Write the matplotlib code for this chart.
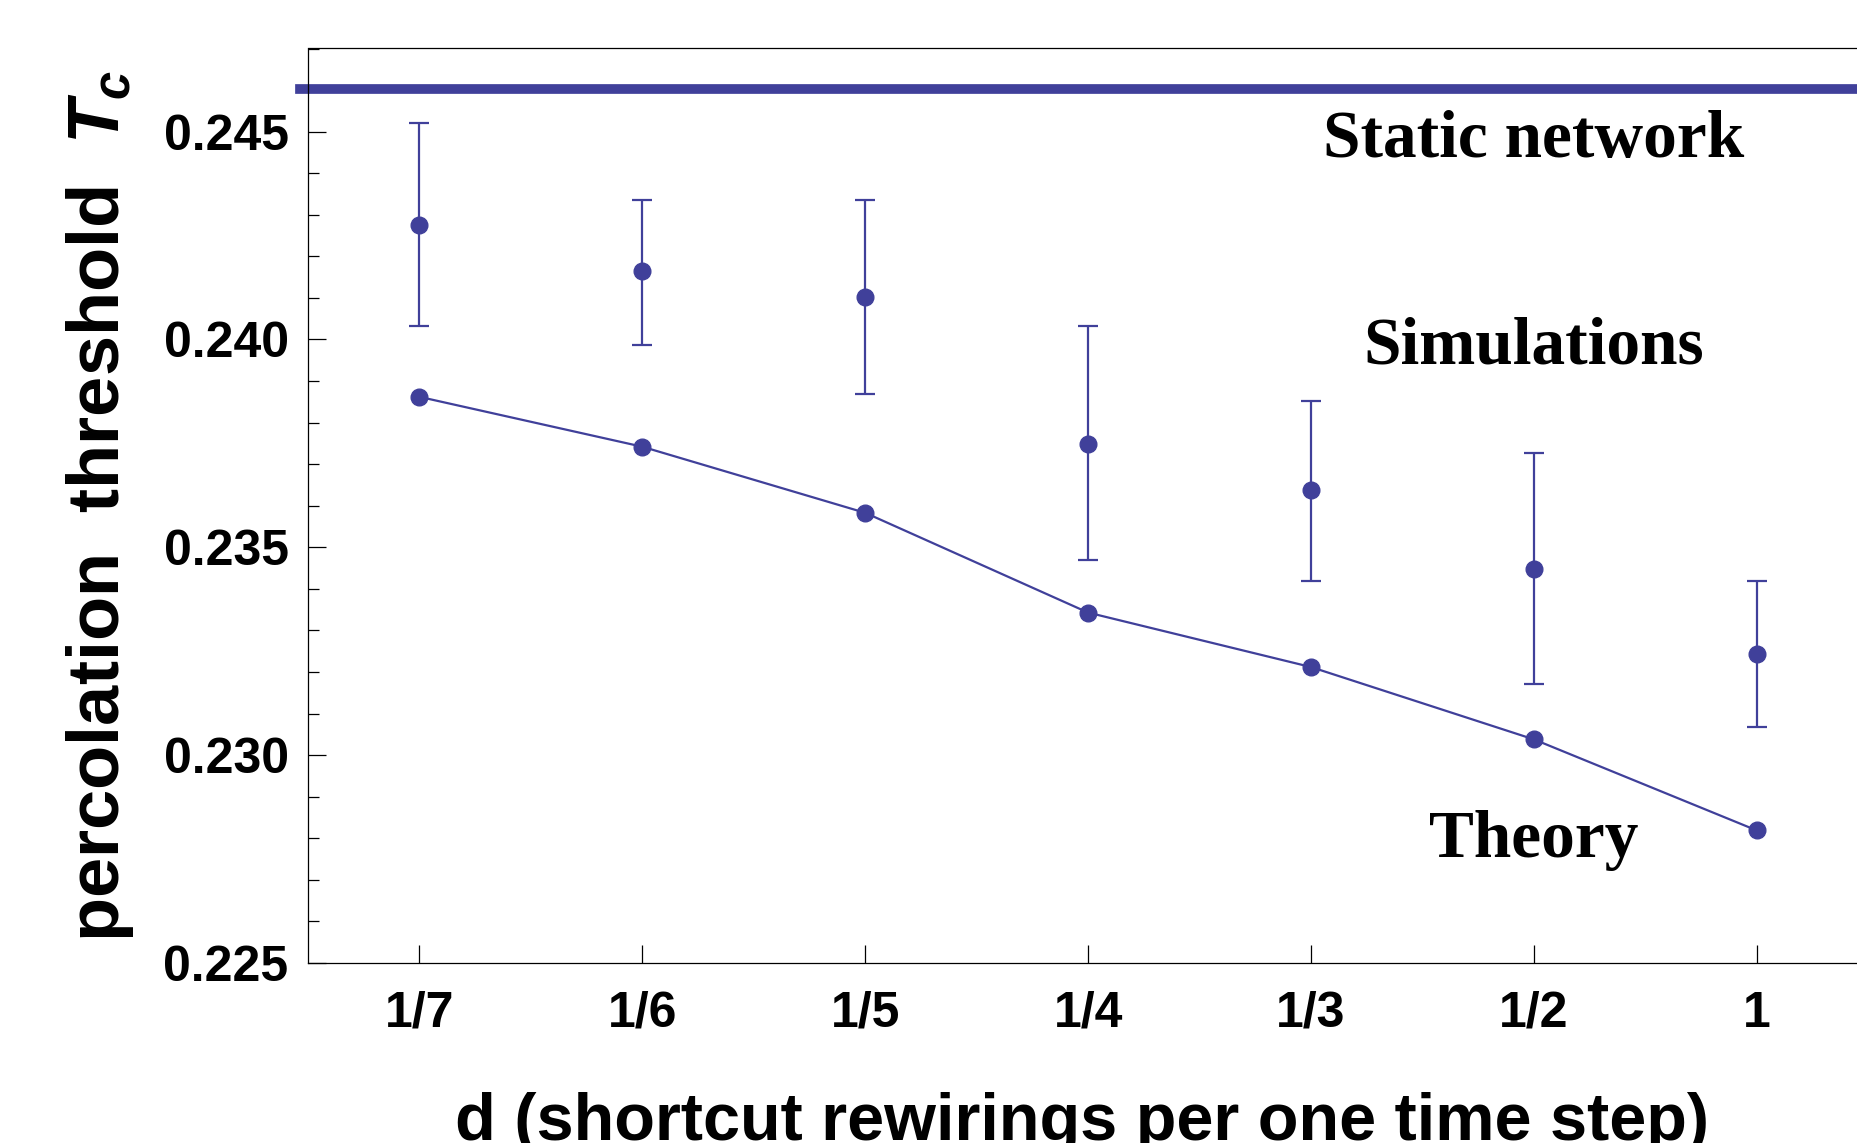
import matplotlib
matplotlib.use('Agg')
import matplotlib.pyplot as plt
from matplotlib.ticker import MultipleLocator

plt.rcParams['font.family'] = 'Liberation Sans'
plt.rcParams['font.weight'] = 'bold'
plt.rcParams['mathtext.fontset'] = 'custom'
plt.rcParams['mathtext.it'] = 'Liberation Sans:italic:bold'
plt.rcParams['mathtext.rm'] = 'Liberation Sans:bold'

# data
d_labels = ['1/7', '1/6', '1/5', '1/4', '1/3', '1/2', '1']
sim_mean = [0.24275, 0.24164, 0.24101, 0.23748, 0.23637, 0.23449, 0.23244]
sim_top = [0.24520, 0.24335, 0.24335, 0.24033, 0.23853, 0.23728, 0.23420]
sim_bottom = [0.24033, 0.23987, 0.23868, 0.23469, 0.23420, 0.23172, 0.23067]
theory = [0.23862, 0.23742, 0.23583, 0.23343, 0.23212, 0.23038, 0.22819]
static_tc = 0.24603

blue = '#40409A'
x = list(range(len(d_labels)))
err_lo = [m - b for m, b in zip(sim_mean, sim_bottom)]
err_hi = [t - m for m, t in zip(sim_mean, sim_top)]

fig = plt.figure(figsize=(18.57, 11.43), dpi=100)
ax = fig.add_axes([308 / 1857, 1 - 963 / 1143, 1 - 308 / 1857, (963 - 48.5) / 1143])

ax.axhline(static_tc, color=blue, linewidth=7, xmin=-0.005, clip_on=False)
ax.errorbar(x, sim_mean, yerr=[err_lo, err_hi], fmt='o', color=blue,
            markersize=12, elinewidth=1.6, capsize=7, capthick=1.6)
ax.plot(x, theory, color=blue, linewidth=1.6, marker='o', markersize=12)

ax.text(5, 0.24438, 'Static network', family='Liberation Serif', weight='bold',
        fontsize=48.5, ha='center', va='baseline')
ax.text(5, 0.23943, 'Simulations', family='Liberation Serif', weight='bold',
        fontsize=48.5, ha='center', va='baseline')
ax.text(5, 0.22755, 'Theory', family='Liberation Serif', weight='bold',
        fontsize=48.5, ha='center', va='baseline')

ax.set_xlim(-0.5, 6.45)
ax.set_ylim(0.225, 0.247)
ax.set_xticks(x)
ax.set_xticklabels(d_labels)
ax.set_yticks([0.225, 0.230, 0.235, 0.240, 0.245])
ax.set_yticklabels(['0.225', '0.230', '0.235', '0.240', '0.245'])
ax.yaxis.set_minor_locator(MultipleLocator(0.001))
ax.tick_params(axis='both', which='major', direction='in', length=13, width=0.9,
               labelsize=36)
ax.tick_params(axis='y', which='minor', direction='in', length=8, width=0.9)
ax.tick_params(axis='y', pad=14)
ax.tick_params(axis='x', pad=20)
ax.spines['right'].set_visible(False)
for s in ['left', 'bottom', 'top']:
    ax.spines[s].set_linewidth(0.9)

ax.set_ylabel('percolation  threshold  $T_c$', fontsize=52, weight='bold', labelpad=20)
ax.set_xlabel('d (shortcut rewirings per one time step)', fontsize=48, weight='bold',
              labelpad=40)

fig.savefig('out.png', dpi=100)
